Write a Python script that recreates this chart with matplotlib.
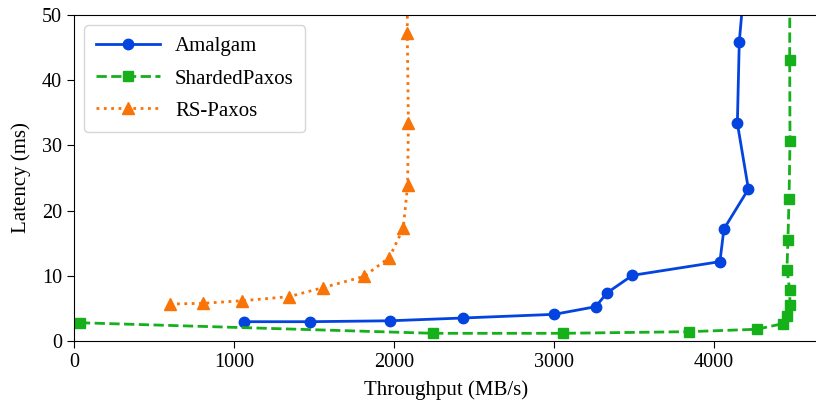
import matplotlib
matplotlib.use('Agg')
import matplotlib.pyplot as plt

plt.rcParams['font.family'] = ['Liberation Serif', 'DejaVu Serif']
plt.rcParams['font.size'] = 15
plt.rcParams['xtick.labelsize'] = 14.5
plt.rcParams['ytick.labelsize'] = 14.5
plt.rcParams['xtick.major.size'] = 5
plt.rcParams['ytick.major.size'] = 5

# throughput (MB/s) vs latency (ms) for each protocol
amalgam_tput = [1064, 1475, 1975, 2433, 3002, 3260, 3333, 3490, 4037, 4062, 4215, 4146, 4158, 4230]
amalgam_lat = [2.96, 2.96, 3.1, 3.53, 4.09, 5.26, 7.41, 10.07, 12.17, 17.18, 23.3, 33.4, 45.9, 66.0]

sharded_tput = [37, 2245, 3058, 3842, 4267, 4429, 4458, 4475, 4473, 4456, 4462, 4469, 4475, 4473, 4476]
sharded_lat = [2.8, 1.18, 1.18, 1.43, 1.8, 2.65, 3.83, 5.47, 7.82, 10.95, 15.5, 21.8, 30.7, 43.1, 80.0]

rs_tput = [598, 806, 1052, 1344, 1558, 1812, 1971, 2058, 2085, 2090, 2083, 2084]
rs_lat = [5.67, 5.78, 6.18, 6.8, 8.2, 9.9, 12.8, 17.3, 23.9, 33.4, 47.2, 80.0]

fig = plt.figure(figsize=(8.16, 4.04), dpi=100)
ax = fig.add_axes([74 / 816, 63 / 404, 744 / 816, 326 / 404])

ax.plot(amalgam_tput, amalgam_lat, color='xkcd:blue', linestyle='-', marker='o',
        linewidth=2, markersize=7.5, label='Amalgam')
ax.plot(sharded_tput, sharded_lat, color='xkcd:green', linestyle='--', marker='s',
        linewidth=2, markersize=7, label='ShardedPaxos')
ax.plot(rs_tput, rs_lat, color='xkcd:orange', linestyle=':', marker='^',
        linewidth=2, markersize=8, label='RS-Paxos')

ax.set_xlim(0, 4650)
ax.set_ylim(0, 50)
ax.set_xticks([0, 1000, 2000, 3000, 4000])
ax.set_yticks([0, 10, 20, 30, 40, 50])
ax.set_xlabel('Throughput (MB/s)', labelpad=6)
ax.set_ylabel('Latency (ms)', labelpad=8)
ax.legend(loc='upper left', borderpad=0.55, labelspacing=0.6,
          handlelength=3.1, handletextpad=0.7)

fig.savefig('out.png', dpi=100)
